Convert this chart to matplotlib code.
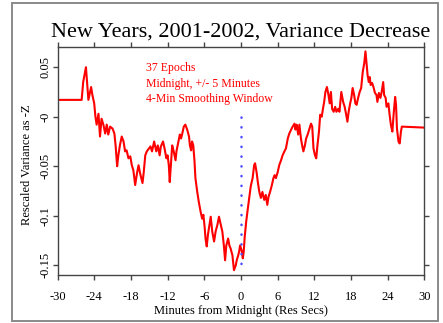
import matplotlib
matplotlib.use('Agg')
import matplotlib.pyplot as plt
from matplotlib.patches import Rectangle

# Smoothed cumulative deviation
minutes = [
    -30, -26.05, -25.8, -25.35, -25.1, -24.95, -24.5, -24.3, -24.0, -23.8,
    -23.6, -23.3, -23.05, -22.8, -22.5, -22.2, -21.95, -21.7, -21.4, -21.0,
    -20.7, -20.5, -20.25, -20.05, -19.8, -19.5, -19.2, -18.95, -18.7, -18.4,
    -18.1, -17.85, -17.6, -17.3, -17.0, -16.75, -16.5, -16.1, -15.9, -15.65,
    -15.4, -14.8, -14.55, -14.2, -13.85, -13.6, -13.3, -13.1, -12.75, -12.5,
    -12.2, -12.0, -11.8, -11.65, -11.4, -11.25, -11.0, -10.7, -10.55, -10.35,
    -10.0, -9.8, -9.6, -9.35, -9.1, -8.8, -8.5, -8.35, -8.15, -8.0,
    -7.8, -7.6, -7.45, -7.15, -6.9, -6.6, -6.35, -6.15, -5.95, -5.8,
    -5.6, -5.4, -5.2, -4.95, -4.7, -4.4, -4.15, -3.85, -3.6, -3.3,
    -3.05, -2.8, -2.6, -2.4, -2.1, -1.9, -1.7, -1.4, -1.15, -0.85,
    -0.7, -0.45, -0.3, -0.15, 0.1, 0.3, 0.45, 0.6, 0.85, 1.05,
    1.35, 1.6, 1.9, 2.15, 2.3, 2.55, 2.75, 3.0, 3.25, 3.5,
    3.8, 4.05, 4.3, 4.5, 4.75, 5.05, 5.3, 5.5, 5.7, 6.0,
    6.25, 6.55, 6.8, 7.1, 7.35, 7.65, 7.9, 8.2, 8.45, 8.75,
    8.9, 9.1, 9.35, 9.55, 9.8, 10.0, 10.2, 10.45, 10.65, 10.9,
    11.2, 11.45, 11.65, 11.85, 12.1, 12.3, 12.5, 12.75, 12.95, 13.2,
    13.4, 13.6, 13.8, 14.05, 14.3, 14.5, 14.7, 14.9, 15.15, 15.4,
    15.6, 15.9, 16.1, 16.4, 16.7, 16.95, 17.2, 17.4, 17.6, 17.85,
    18.05, 18.25, 18.5, 18.7, 18.9, 19.15, 19.4, 19.65, 19.9, 20.15,
    20.35, 20.5, 20.7, 20.9, 21.05, 21.2, 21.45, 21.7, 21.9, 22.15,
    22.3, 22.55, 22.8, 23.0, 23.25, 23.4, 23.65, 23.8, 24.1, 24.3,
    24.5, 24.75, 24.95, 25.2, 25.35, 25.5, 25.75, 25.95, 26.15, 26.3,
    30,
]
variance_z = [
    0.017, 0.017, 0.035, 0.050, 0.029, 0.017, 0.030, 0.022, 0.0135, 0.0,
    -0.008, 0.003, -0.020, -0.002, -0.008, -0.017, -0.008, -0.018, -0.010, -0.012,
    -0.017, -0.029, -0.050, -0.039, -0.029, -0.020, -0.025, -0.035, -0.034, -0.042,
    -0.040, -0.049, -0.054, -0.069, -0.057, -0.049, -0.057, -0.067, -0.056, -0.039,
    -0.035, -0.030, -0.035, -0.025, -0.035, -0.029, -0.039, -0.030, -0.025, -0.032,
    -0.042, -0.039, -0.049, -0.066, -0.042, -0.029, -0.035, -0.044, -0.035, -0.029,
    -0.018, -0.022, -0.017, -0.010, -0.008, -0.013, -0.020, -0.029, -0.034, -0.025,
    -0.029, -0.045, -0.062, -0.076, -0.086, -0.096, -0.103, -0.099, -0.111, -0.123,
    -0.131, -0.119, -0.111, -0.101, -0.116, -0.126, -0.116, -0.109, -0.101, -0.109,
    -0.116, -0.130, -0.145, -0.130, -0.123, -0.130, -0.133, -0.140, -0.155, -0.150,
    -0.145, -0.140, -0.136, -0.130, -0.135, -0.143, -0.136, -0.122, -0.106, -0.096,
    -0.082, -0.070, -0.062, -0.049, -0.047, -0.056, -0.066, -0.076, -0.082, -0.076,
    -0.084, -0.079, -0.089, -0.081, -0.076, -0.069, -0.062, -0.059, -0.062, -0.056,
    -0.049, -0.044, -0.039, -0.035, -0.032, -0.022, -0.017, -0.013, -0.010, -0.007,
    -0.013, -0.008, -0.018, -0.008, -0.022, -0.029, -0.035, -0.029, -0.022, -0.018,
    -0.012, -0.007, -0.010, -0.032, -0.039, -0.042, -0.029, -0.015, 0.002, 0.0,
    0.008, 0.015, 0.025, 0.030, 0.022, 0.0135, 0.025, 0.008, 0.005, 0.010,
    0.005, 0.008, 0.005, 0.025, 0.015, 0.010, 0.002, -0.005, 0.005, 0.0135,
    0.019, 0.029, 0.022, 0.0135, 0.012, 0.019, 0.025, 0.029, 0.045, 0.054,
    0.066, 0.056, 0.042, 0.035, 0.040, 0.032, 0.034, 0.029, 0.024, 0.022,
    0.015, 0.024, 0.019, 0.025, 0.035, 0.022, 0.019, 0.010, 0.0135, 0.002,
    -0.008, -0.015, 0.002, 0.020, 0.012, -0.012, -0.025, -0.027, -0.015, -0.010,
    -0.011,
]

x_ticks = [-30, -24, -18, -12, -6, 0, 6, 12, 18, 24, 30]
x_tick_labels = ['-30', '-24', '-18', '-12', '-6', '0', '6', '12', '18', '24', '30']
y_ticks = [0.05, 0.0, -0.05, -0.1, -0.15]
y_tick_labels = ['0.05', '-0', '-0.05', '-0.1', '-0.15']

midnight = 0
marker_span = [0.0, -0.155]
notes = ['37 Epochs', 'Midnight, +/- 5 Minutes', '4-Min Smoothing Window']

plt.rcParams['font.family'] = ['Liberation Serif', 'DejaVu Serif']

fig = plt.figure(figsize=(4.43, 3.23), dpi=100)
ax = fig.add_axes([0.1298, 0.150, 0.8284, 0.706])

# grey frame around the whole picture
fig.patches.append(Rectangle((0.027, 0.006), 0.961, 0.984, transform=fig.transFigure,
                             fill=False, edgecolor='#8a8a8a', linewidth=1.4))

ax.plot(minutes, variance_z, color='red', linewidth=1.5)

# dotted marker at midnight
ax.plot([midnight, midnight], marker_span, color='#4b4bff', linewidth=1.8,
        linestyle=(0, (0.1, 3.8)), dash_capstyle='round')

for i, line in enumerate(notes):
    ax.text(0.24, 0.905 - i * 0.068, line, transform=ax.transAxes, color='red',
            fontsize=8.5, ha='left', va='center')

ax.set_xlim(-30, 30)
ax.set_ylim(-0.1594, 0.0709)
ax.set_xticks(x_ticks)
ax.set_xticklabels(x_tick_labels)
ax.set_yticks(y_ticks)
ax.set_yticklabels(y_tick_labels, rotation=90, va='center')

ax.tick_params(direction='out', length=3.5, width=1.0, color='#444444',
               labelsize=9, top=True, right=True)
ax.tick_params(axis='x', pad=8)
ax.tick_params(axis='y', pad=0.5)
for s in ax.spines.values():
    s.set_color('#444444')
    s.set_linewidth(1.0)

ax.set_title('New Years, 2001-2002, Variance Decrease', fontsize=16, pad=7)
ax.set_xlabel('Minutes from Midnight (Res Secs)', fontsize=9)
ax.set_ylabel('Rescaled Variance as -Z', fontsize=9)
ax.xaxis.set_label_coords(0.5, -0.134)
ax.yaxis.set_label_coords(-0.068, 0.48)

fig.savefig('out.png', dpi=100)
